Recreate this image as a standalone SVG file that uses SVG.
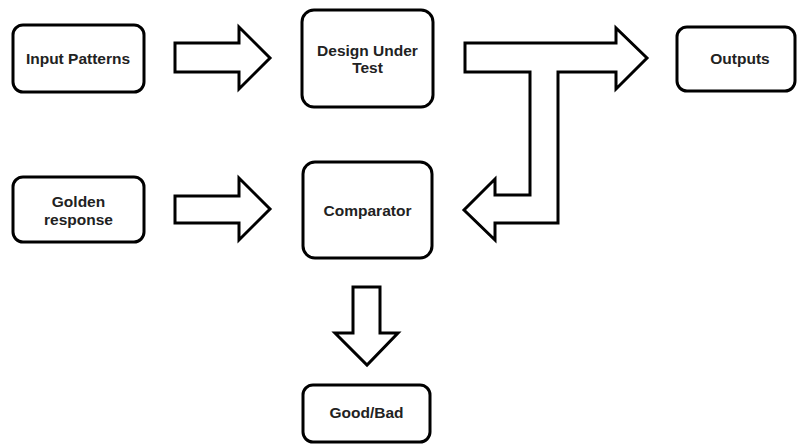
<svg xmlns="http://www.w3.org/2000/svg" width="798" height="448" viewBox="0 0 798 448">
<style>
.box{fill:#fff;stroke:#000;stroke-width:3}
.arr{fill:#fff;stroke:#000;stroke-width:3;stroke-linejoin:miter}
text{font-family:"Liberation Sans",Arial,sans-serif;font-weight:bold;font-size:15.5px;fill:#222;text-anchor:middle}
</style>
<rect width="798" height="448" fill="#fff"/>
<g id="connectors">
<polygon class="arr" points="175,43 239,43 239,27 270,58 239,89 239,72 175,72"/>
<polygon class="arr" points="175,196 239,196 239,178 270,209 239,240 239,223 175,223"/>
<polygon class="arr" points="465,43 616,43 616,28 647,58 616,89 616,72 558,72 558,223 495,223 495,240 464,210 495,179 495,195 530,195 530,72 465,72"/>
<polygon class="arr" points="353,287 380,287 380,333 398,333 367,365 335,333 353,333"/>
</g>
<g id="input-patterns"><rect class="box" x="13" y="25" width="131" height="67" rx="10"/><text x="78" y="64">Input Patterns</text></g>
<g id="dut"><rect class="box" x="302" y="10" width="131" height="97" rx="12"/><text x="367.5" y="56">Design Under</text><text x="367.5" y="73">Test</text></g>
<g id="outputs"><rect class="box" x="677" y="27" width="118" height="64" rx="10"/><text x="740" y="64">Outputs</text></g>
<g id="golden"><rect class="box" x="13" y="177" width="131" height="65" rx="10"/><text x="78.5" y="207">Golden</text><text x="78.5" y="225">response</text></g>
<g id="comparator"><rect class="box" x="303" y="162" width="129" height="96" rx="12"/><text x="367.5" y="216">Comparator</text></g>
<g id="goodbad"><rect class="box" x="303" y="385" width="127" height="57" rx="10"/><text x="366.5" y="418">Good/Bad</text></g>
</svg>
